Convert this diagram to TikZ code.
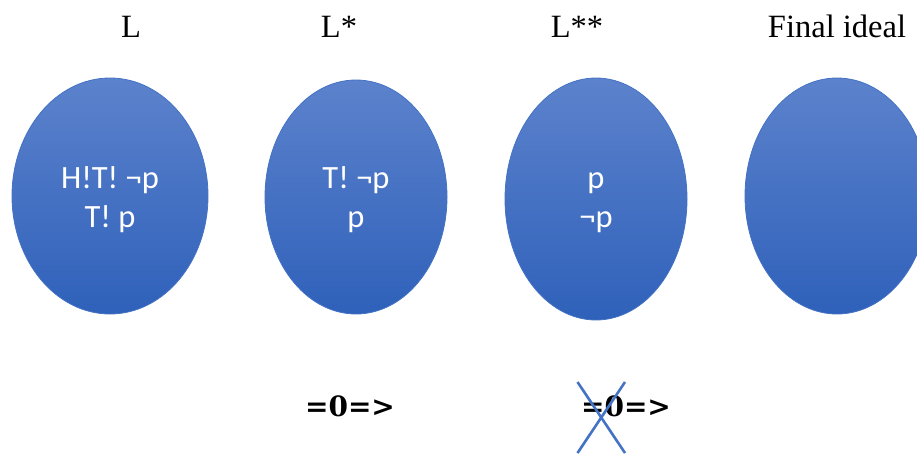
\documentclass[tikz,border=0pt]{standalone}
\usepackage{fontspec}
\setmainfont{Liberation Serif}
\newfontfamily\inner{Carlito}
\newfontfamily\arrowfont{DejaVu Serif}
\usetikzlibrary{shapes.geometric}
\definecolor{blobtop}{RGB}{92,130,204}
\definecolor{blobbot}{RGB}{47,97,186}
\definecolor{blobedge}{RGB}{68,114,196}
\definecolor{crosscol}{RGB}{68,114,196}
\tikzset{
  blob/.style={ellipse, draw=blobedge, line width=0.8pt, top color=blobtop, bottom color=blobbot,
    inner sep=0pt},
  blobtext/.style={text=white, align=center, inner sep=0pt, font=\inner\fontsize{32.5}{39}\selectfont},
  title/.style={font=\fontsize{32.5}{36}\selectfont, inner sep=0pt, anchor=base},
  arrowlab/.style={font=\arrowfont\bfseries\fontsize{28}{30}\selectfont, inner sep=0pt, anchor=base},
  crossline/.style={draw=crosscol, line width=2.6pt}
}
\begin{document}
\begin{tikzpicture}[x=1pt,y=-1pt]
\useasboundingbox (0,0) rectangle (917,453);
\clip (0,0) rectangle (917,453);
\node[title] (tL) at (131,37) {L};
\node[title] (tLs) at (339,37) {L*};
\node[title] (tLss) at (577,37) {L**};
\node[title] (tF) at (837,37) {Final ideal};
\node[blob, minimum width=196pt, minimum height=236pt] (e1) at (110,196) {};
\node[blob, minimum width=182pt, minimum height=234pt] (e2) at (356,197) {};
\node[blob, minimum width=182pt, minimum height=242pt] (e3) at (596,199) {};
\node[blob, minimum width=184pt, minimum height=236pt] (e4) at (837,196) {};
\node[blobtext, yshift=-4pt] (x1) at (e1) {H!T! ¬p\\T! p};
\node[blobtext, yshift=-3pt] (x2) at (e2) {T! ¬p\\p};
\node[blobtext, yshift=-4pt] (x3) at (e3) {p\\¬p};
\node[arrowlab] (a1) at (350,416) {=0=>};
\node[arrowlab] (a2) at (626,416) {=0=>};
\coordinate (c1) at (577.5,382);
\coordinate (c2) at (625,453);
\coordinate (c3) at (625,382);
\coordinate (c4) at (577.5,453);
\draw[crossline] (c1) -- (c2);
\draw[crossline] (c3) -- (c4);
\end{tikzpicture}
\end{document}
